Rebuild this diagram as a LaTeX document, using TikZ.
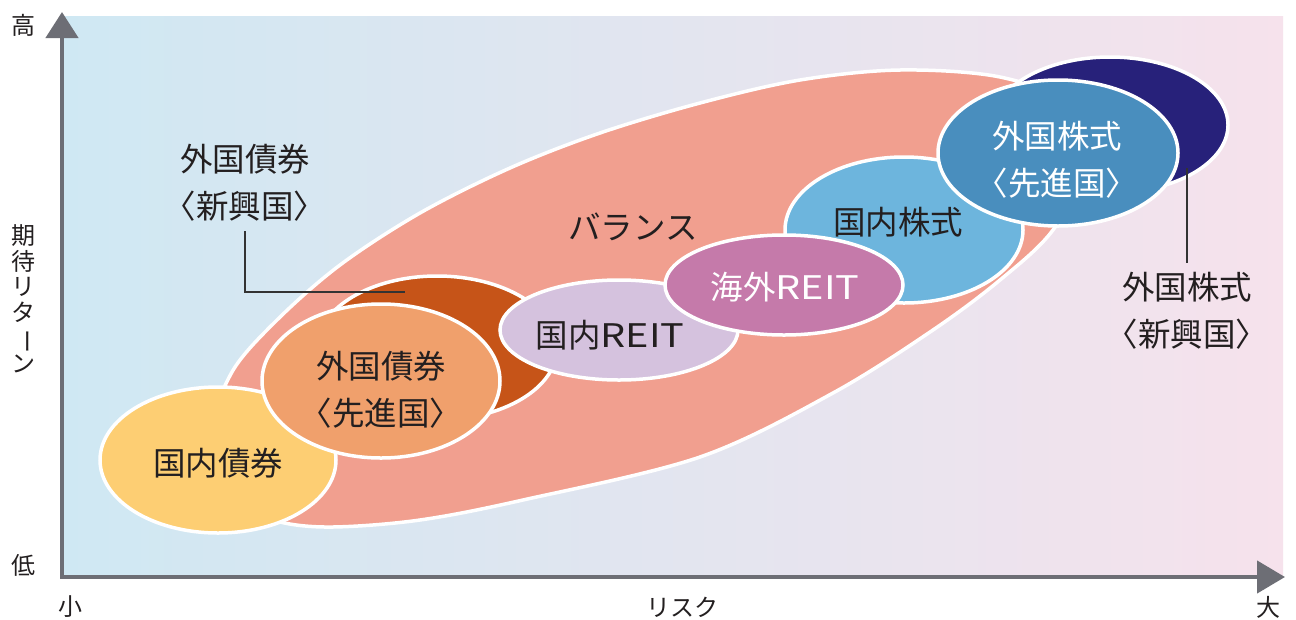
\documentclass[tikz,border=0pt]{standalone}
\usepackage{fontspec}
\usepackage{graphicx}
\setmainfont{Noto Sans CJK JP}
\usetikzlibrary{arrows.meta,shapes.geometric}
\definecolor{bgL}{HTML}{CFE8F3}
\definecolor{bgR}{HTML}{F6E2EC}
\definecolor{blobc}{HTML}{F19F8F}
\definecolor{navyc}{HTML}{27217A}
\definecolor{steelc}{HTML}{498EBE}
\definecolor{lbluec}{HTML}{6DB5DD}
\definecolor{dorangec}{HTML}{C65418}
\definecolor{yellowc}{HTML}{FDCE73}
\definecolor{orangec}{HTML}{F0A06C}
\definecolor{lilacc}{HTML}{D5C2DE}
\definecolor{magc}{HTML}{C57AAA}
\definecolor{txtc}{HTML}{231F20}
\definecolor{axisc}{HTML}{6D6E75}
\definecolor{leadc}{HTML}{333333}
\newcommand{\wideR}{\scalebox{1.22}[1]{REIT}}
\begin{document}
\begin{tikzpicture}[x=1pt,y=-1pt,
  ell/.style={ellipse,draw=white,line width=3.5pt,inner sep=0pt,outer sep=0pt},
  lab/.style={text=txtc,font=\fontsize{32.5}{47}\selectfont,align=center,inner sep=0pt},
  wlab/.style={lab,text=white},
  axlab/.style={text=txtc,font=\fontsize{24}{25.5}\selectfont,align=center,inner sep=0pt},
  axisline/.style={draw=axisc,line width=4.5pt,line join=miter},
  leader/.style={draw=leadc,line width=1.5pt}]
\useasboundingbox (0,0) rectangle (1296,619);
\fill[white] (0,0) rectangle (1296,619);
\shade[left color=bgL,right color=bgR] (62,16) rectangle (1283,577);
% balance blob
\draw[fill=blobc,draw=white,line width=3.5pt] plot[smooth cycle,tension=0.55] coordinates {
 (240,505) (215,430) (232,372) (277,320) (340,265) (420,213) (510,168) (600,133)
 (700,103) (800,80) (900,70) (1000,77) (1070,105) (1090,160) (1053,230) (1000,280)
 (933,330) (833,393) (700,457) (523,500) (420,520) (333,527) (280,522)};
\node[lab] (bal) at (633,227) {バランス};
% ellipses
\node[ell,fill=navyc,minimum width=236pt,minimum height=136pt] (fse) at (1110,125) {};
\node[ell,fill=lbluec,minimum width=238pt,minimum height=146pt] (dse) at (904,230) {};
\node[ell,fill=steelc,minimum width=240pt,minimum height=146pt] (fsd) at (1058,153) {};
\node[ell,fill=dorangec,minimum width=240pt,minimum height=144pt] (fbe) at (437,348) {};
\node[ell,fill=yellowc,minimum width=236pt,minimum height=146pt] (dbe) at (218,460) {};
\node[ell,fill=orangec,minimum width=238pt,minimum height=154pt] (fbd) at (381,381) {};
\node[ell,fill=lilacc,minimum width=238pt,minimum height=100pt] (dre) at (619,330) {};
\node[ell,fill=magc,minimum width=238pt,minimum height=100pt] (fre) at (784,285) {};
% labels
\node[lab] (tdb) at (218,463) {国内債券};
\node[lab] (tfbd) at (381,390) {外国債券\\〈先進国〉};
\node[lab] (tdre) at (610,335) {国内\wideR};
\node[wlab] (tfre) at (785,287) {海外\wideR};
\node[lab] (tdse) at (898,222) {国内株式};
\node[wlab] (tfsd) at (1057,160) {外国株式\\〈先進国〉};
\node[lab] (tfbe) at (245,183) {外国債券\\〈新興国〉};
\node[lab] (tfse) at (1187,311) {外国株式\\〈新興国〉};
% leaders
\coordinate (la1) at (245,231);
\coordinate (lb1) at (405,292);
\draw[leader] (la1) |- (lb1);
\coordinate (la2) at (1187,168);
\coordinate (lb2) at (1187,263);
\draw[leader] (la2) -- (lb2);
% axes
\coordinate (ytip) at (62,12);
\coordinate (org) at (62,577);
\coordinate (xtip) at (1285,577);
\draw[axisline,{Triangle[length=26pt,width=32pt]}-{Triangle[length=28pt,width=32pt]}] (ytip) -- (org) -- (xtip);
\node[axlab] (hi) at (24,25) {高};
\node[axlab] (lo) at (24,565) {低};
\node[axlab] (ret) at (24,299) {期\\待\\リ\\タ\\\rotatebox[origin=c]{-90}{ー}\\ン};
\node[axlab] (sm) at (70,607) {小};
\node[axlab] (risk) at (682,607) {リスク};
\node[axlab] (bg) at (1268,607) {大};
\end{tikzpicture}
\end{document}
